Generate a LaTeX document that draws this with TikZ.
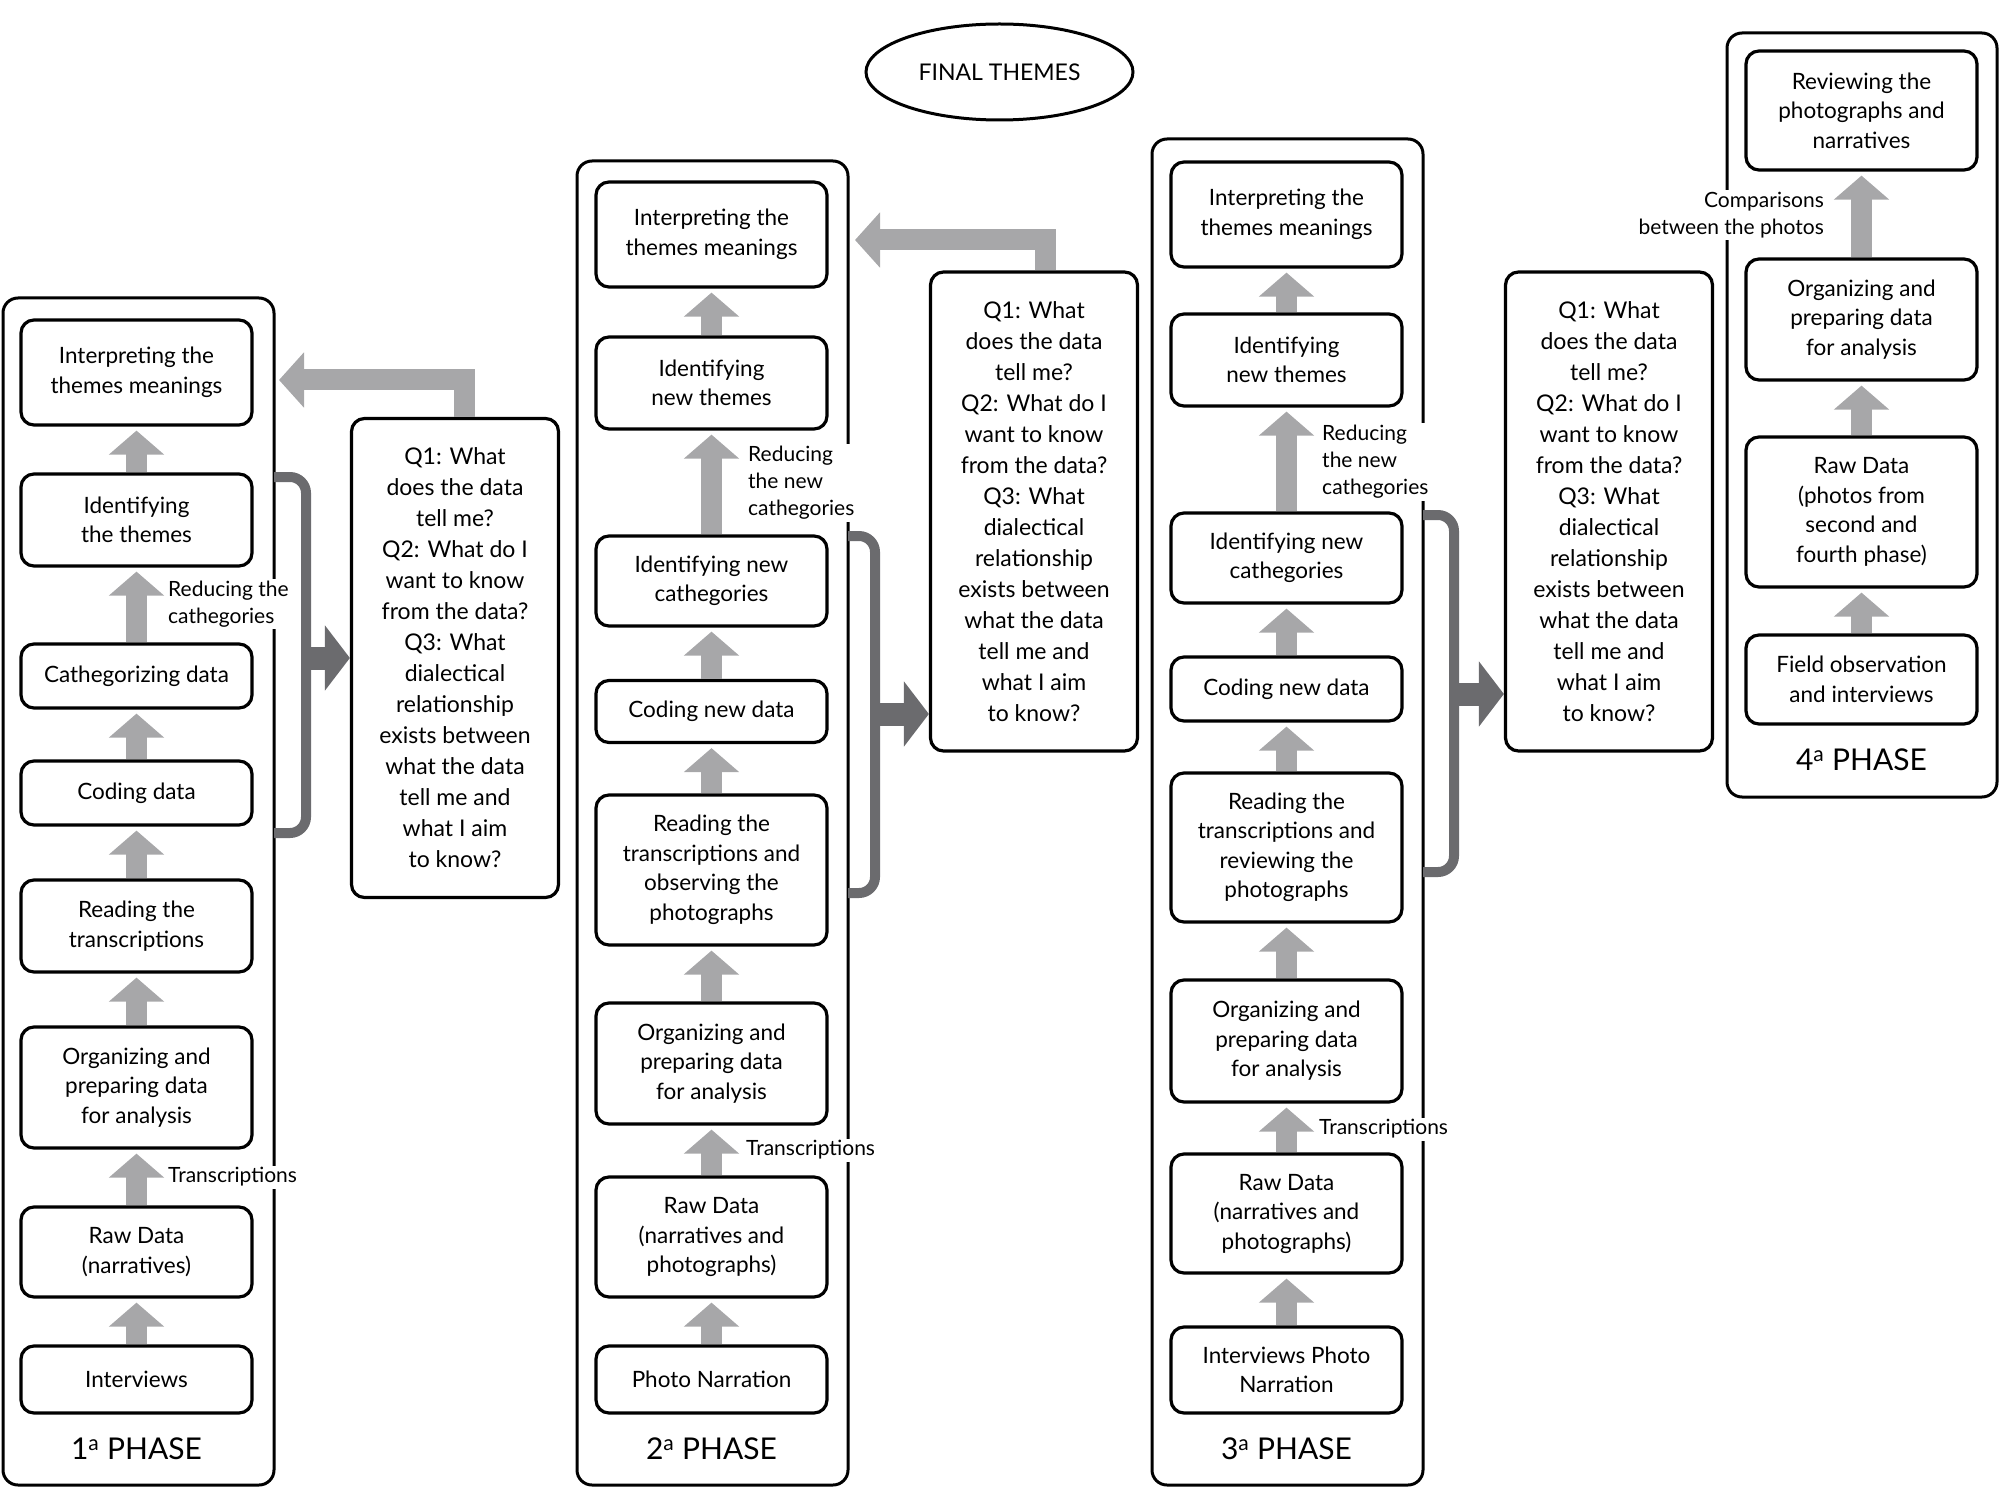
\documentclass[tikz,border=0pt]{standalone}
\usepackage{fontspec}
\setmainfont{Lato}
\usetikzlibrary{arrows.meta,shapes.geometric,calc}
\definecolor{lgray}{HTML}{A7A7A9}
\definecolor{dgray}{HTML}{6B6B6E}
\begin{document}
\begin{tikzpicture}[x=1pt,y=-1pt,
  box/.style={draw, line width=3.2pt, rounded corners=13pt, align=center, inner sep=0pt,
    minimum width=231pt, font=\fontsize{22.5}{29.5}\selectfont},
  qbox/.style={draw, line width=3.2pt, rounded corners=13pt, align=center, inner sep=0pt,
    minimum width=207pt, minimum height=479pt, font=\fontsize{23}{31}\selectfont},
  outer/.style={draw, line width=3pt, rounded corners=15pt, inner sep=0pt},
  phase/.style={font=\fontsize{30}{34}\selectfont, inner sep=0pt},
  lbl/.style={fill=white, inner sep=2pt, font=\fontsize{21}{27}\selectfont},
  uparr/.style={draw=lgray, line width=21pt, -{Triangle[width=54pt,length=24pt]}, shorten >=4pt},
  fbarr/.style={draw=lgray, line width=21pt, line join=miter, -{Triangle[width=54pt,length=25pt]}},
  darr/.style={draw=dgray, line width=23pt, -{Triangle[width=64pt,length=25pt]}},
  bracket/.style={draw=dgray, line width=10pt, rounded corners=16pt}
]
\useasboundingbox (0,0) rectangle (2000,1487);

% ---------- outer phase frames ----------
\node[outer, minimum width=271pt, minimum height=1187pt] (ph1) at (138.5,891.5) {};
\node[outer, minimum width=271pt, minimum height=1324pt] (ph2) at (712.5,823) {};
\node[outer, minimum width=271pt, minimum height=1346pt] (ph3) at (1287.5,812) {};
\node[outer, minimum width=270pt, minimum height=764pt] (ph4) at (1862,415) {};

\node[phase] (ph1l) at (136.5,1449) {1\textsuperscript{a} PHASE};
\node[phase] (ph2l) at (711.5,1449) {2\textsuperscript{a} PHASE};
\node[phase] (ph3l) at (1286.5,1449) {3\textsuperscript{a} PHASE};
\node[phase] (ph4l) at (1861.5,760) {4\textsuperscript{a} PHASE};

% ---------- final themes ----------
\node[draw, ellipse, line width=3pt, minimum width=267pt, minimum height=96pt, inner sep=0pt,
  font=\fontsize{23}{26}\selectfont] (final) at (999.5,72) {FINAL THEMES};

% ---------- phase 1 ----------
\node[box, minimum height=105pt] (p1a) at (136.5,372.5) {Interpreting the\\themes meanings};
\node[box, minimum height=92pt]  (p1b) at (136.5,520) {Identifying\\the themes};
\node[box, minimum height=64pt]  (p1c) at (136.5,676) {Cathegorizing data};
\node[box, minimum height=64pt]  (p1d) at (136.5,793) {Coding data};
\node[box, minimum height=92pt]  (p1e) at (136.5,926) {Reading the\\transcriptions};
\node[box, minimum height=121pt] (p1f) at (136.5,1087.5) {Organizing and\\preparing data\\for analysis};
\node[box, minimum height=90pt]  (p1g) at (136.5,1252) {Raw Data\\(narratives)};
\node[box, minimum height=67pt]  (p1h) at (136.5,1379.5) {Interviews};

\draw[uparr] (p1h.north) -- (p1g.south);
\draw[uparr] (p1g.north) -- (p1f.south);
\draw[uparr] (p1f.north) -- (p1e.south);
\draw[uparr] (p1e.north) -- (p1d.south);
\draw[uparr] (p1d.north) -- (p1c.south);
\draw[uparr] (p1c.north) -- (p1b.south);
\draw[uparr] (p1b.north) -- (p1a.south);

\node[lbl, anchor=west, align=left] (l1a) at (166,604) {Reducing the\\cathegories};
\node[lbl, anchor=west] (l1b) at (166,1177) {Transcriptions};

\node[qbox] (q1) at (455,658) {Q1: What\\does the data\\tell me?\\Q2: What do I\\want to know\\from the data?\\Q3: What\\dialectical\\relationship\\exists between\\what the data\\tell me and\\what I aim\\to know?};

\coordinate (b1t) at (274,477);
\coordinate (b1b) at (274,833);
\coordinate (b1m) at (306,658);
\draw[bracket] (b1t) -| (b1m) |- (b1b);
\draw[darr] (b1m) -- (b1m -| q1.west);

\coordinate (f1s) at (464,0);
\coordinate (f1t) at (279,380);
\draw[fbarr] (q1.north -| f1s) |- (f1t);

% ---------- phase 2 ----------
\node[box, minimum height=105pt] (p2a) at (711.5,234.5) {Interpreting the\\themes meanings};
\node[box, minimum height=92pt]  (p2b) at (711.5,383) {Identifying\\new themes};
\node[box, minimum height=90pt]  (p2c) at (711.5,581) {Identifying new\\cathegories};
\node[box, minimum height=62pt]  (p2d) at (711.5,711.5) {Coding new data};
\node[box, minimum height=150pt] (p2e) at (711.5,870) {Reading the\\transcriptions and\\observing the\\photographs};
\node[box, minimum height=121pt] (p2f) at (711.5,1063.5) {Organizing and\\preparing data\\for analysis};
\node[box, minimum height=120pt] (p2g) at (711.5,1237) {Raw Data\\(narratives and\\photographs)};
\node[box, minimum height=67pt]  (p2h) at (711.5,1379.5) {Photo Narration};

\draw[uparr] (p2h.north) -- (p2g.south);
\draw[uparr] (p2g.north) -- (p2f.south);
\draw[uparr] (p2f.north) -- (p2e.south);
\draw[uparr] (p2e.north) -- (p2d.south);
\draw[uparr] (p2d.north) -- (p2c.south);
\draw[uparr] (p2c.north) -- (p2b.south);
\draw[uparr] (p2b.north) -- (p2a.south);

\node[lbl, anchor=west, align=left] (l2a) at (746,483) {Reducing\\the new\\cathegories};
\node[lbl, anchor=west] (l2b) at (744,1150) {Transcriptions};

\node[qbox] (q2) at (1034,511.5) {Q1: What\\does the data\\tell me?\\Q2: What do I\\want to know\\from the data?\\Q3: What\\dialectical\\relationship\\exists between\\what the data\\tell me and\\what I aim\\to know?};

\coordinate (b2t) at (848,536);
\coordinate (b2b) at (848,893);
\coordinate (b2m) at (875,714);
\draw[bracket] (b2t) -| (b2m) |- (b2b);
\draw[darr] (b2m) -- (b2m -| q2.west);

\coordinate (f2s) at (1045,0);
\coordinate (f2t) at (855,240);
\draw[fbarr] (q2.north -| f2s) |- (f2t);

% ---------- phase 3 ----------
\node[box, minimum height=105pt] (p3a) at (1286.5,214.5) {Interpreting the\\themes meanings};
\node[box, minimum height=92pt]  (p3b) at (1286.5,360) {Identifying\\new themes};
\node[box, minimum height=90pt]  (p3c) at (1286.5,558) {Identifying new\\cathegories};
\node[box, minimum height=64pt]  (p3d) at (1286.5,689) {Coding new data};
\node[box, minimum height=149pt] (p3e) at (1286.5,847.5) {Reading the\\transcriptions and\\reviewing the\\photographs};
\node[box, minimum height=122pt] (p3f) at (1286.5,1041) {Organizing and\\preparing data\\for analysis};
\node[box, minimum height=119pt] (p3g) at (1286.5,1213.5) {Raw Data\\(narratives and\\photographs)};
\node[box, minimum height=86pt]  (p3h) at (1286.5,1370) {Interviews Photo\\Narration};

\draw[uparr] (p3h.north) -- (p3g.south);
\draw[uparr] (p3g.north) -- (p3f.south);
\draw[uparr] (p3f.north) -- (p3e.south);
\draw[uparr] (p3e.north) -- (p3d.south);
\draw[uparr] (p3d.north) -- (p3c.south);
\draw[uparr] (p3c.north) -- (p3b.south);
\draw[uparr] (p3b.north) -- (p3a.south);

\node[lbl, anchor=west, align=left] (l3a) at (1320,462) {Reducing\\the new\\cathegories};
\node[lbl, anchor=west] (l3b) at (1317,1129) {Transcriptions};

\node[qbox] (q3) at (1609,511.5) {Q1: What\\does the data\\tell me?\\Q2: What do I\\want to know\\from the data?\\Q3: What\\dialectical\\relationship\\exists between\\what the data\\tell me and\\what I aim\\to know?};

\coordinate (b3t) at (1423,515);
\coordinate (b3b) at (1423,872);
\coordinate (b3m) at (1454,694);
\draw[bracket] (b3t) -| (b3m) |- (b3b);
\draw[darr] (b3m) -- (b3m -| q3.west);

% ---------- phase 4 ----------
\node[box, minimum height=119pt] (p4a) at (1861.5,110.5) {Reviewing the\\photographs and\\narratives};
\node[box, minimum height=121pt] (p4b) at (1861.5,319.5) {Organizing and\\preparing data\\for analysis};
\node[box, minimum height=150pt] (p4c) at (1861.5,512) {Raw Data\\(photos from\\second and\\fourth phase)};
\node[box, minimum height=89pt]  (p4d) at (1861.5,679.5) {Field observation\\and interviews};

\draw[uparr] (p4d.north) -- (p4c.south);
\draw[uparr] (p4c.north) -- (p4b.south);
\draw[uparr] (p4b.north) -- (p4a.south);

\node[lbl, anchor=east, align=right] (l4a) at (1826,215) {Comparisons\\between the photos};
\end{tikzpicture}
\end{document}
